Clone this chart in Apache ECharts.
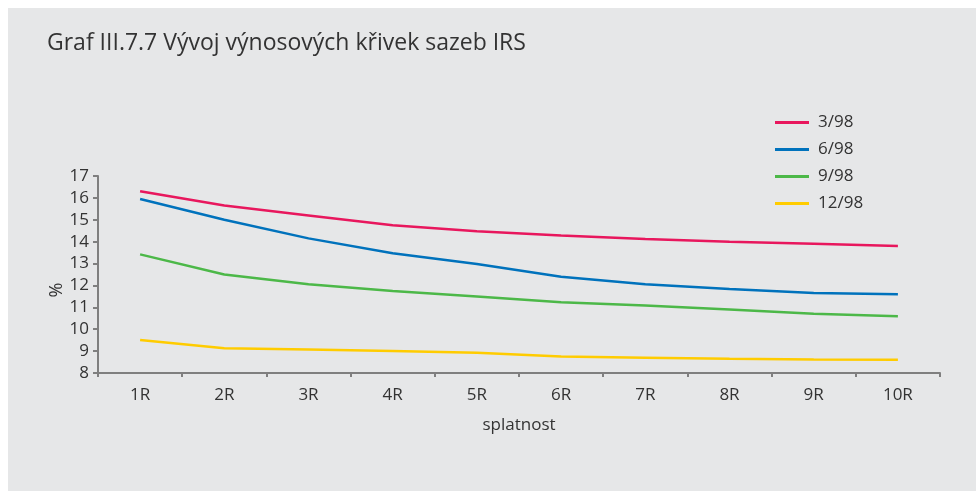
<!DOCTYPE html>
<html>
<head>
<meta charset="utf-8">
<script src="https://cdn.jsdelivr.net/npm/echarts@6/dist/echarts.min.js"></script>
<style>
html,body{margin:0;padding:0;background:#ffffff;}
#chart{width:976px;height:493px;}
</style>
</head>
<body>
<div id="chart"></div>
<script>
const categories = ['1R','2R','3R','4R','5R','6R','7R','8R','9R','10R'];
const s_3_98  = [16.3, 15.65, 15.2, 14.75, 14.48, 14.28, 14.12, 14.0, 13.9, 13.8];
const s_6_98  = [15.95, 15.0, 14.15, 13.47, 12.98, 12.4, 12.05, 11.84, 11.65, 11.6];
const s_9_98  = [13.42, 12.5, 12.05, 11.75, 11.5, 11.23, 11.08, 10.9, 10.71, 10.59];
const s_12_98 = [9.51, 9.13, 9.07, 9.0, 8.92, 8.75, 8.7, 8.65, 8.62, 8.6];
const seriesNames = ['3/98','6/98','9/98','12/98'];
const yTicks = [8,9,10,11,12,13,14,15,16,17];

const FONT = 'Open Sans';
const TXT = '#333333';
const colors = ['#e8175d','#0072bc','#4cb848','#ffcc00'];
const data = [s_3_98, s_6_98, s_9_98, s_12_98];

const chart = echarts.init(document.getElementById('chart'), null, {renderer:'canvas'});
chart.setOption({
  backgroundColor: '#ffffff',
  animation: false,
  graphic: [{
    type: 'rect', silent: true, z: -10,
    shape: {x: 8, y: 8, width: 968, height: 483},
    style: {fill: '#e6e7e8'}
  }, {
    type: 'text', silent: true,
    x: 57, y: 290, rotation: Math.PI / 2,
    style: {text: '%', fontFamily: FONT, fontSize: 18, fill: TXT, align: 'center', verticalAlign: 'middle'}
  }],
  title: {
    text: 'Graf III.7.7 Vývoj výnosových křivek sazeb IRS',
    left: 42, top: 27,
    textStyle: {fontFamily: FONT, fontSize: 23, fontWeight: 'normal', color: TXT}
  },
  legend: {
    orient: 'vertical',
    left: 775, top: 114,
    padding: 0,
    icon: 'rect',
    itemWidth: 34, itemHeight: 3, itemGap: 10,
    data: seriesNames,
    textStyle: {fontFamily: FONT, fontSize: 17, lineHeight: 16, color: TXT, padding: [0,0,0,4]}
  },
  grid: {left: 98, right: 36, top: 176, bottom: 120, containLabel: false},
  xAxis: {
    type: 'category',
    data: categories,
    boundaryGap: true,
    name: 'splatnost',
    nameLocation: 'middle',
    nameGap: 44,
    nameTextStyle: {fontFamily: FONT, fontSize: 17, color: TXT},
    axisLine: {lineStyle: {color: '#7f7f7f', width: 2}},
    axisTick: {show: true, length: 4, lineStyle: {color: '#7f7f7f', width: 2}},
    axisLabel: {fontFamily: FONT, fontSize: 17, color: TXT, margin: 14},
    splitLine: {show: false}
  },
  yAxis: {
    type: 'value',
    min: yTicks[0], max: yTicks[yTicks.length-1], interval: 1,
    axisLine: {show: true, lineStyle: {color: '#7f7f7f', width: 2}},
    axisTick: {show: true, length: 5, lineStyle: {color: '#7f7f7f', width: 2}},
    axisLabel: {fontFamily: FONT, fontSize: 17, color: TXT, margin: 9},
    splitLine: {show: false}
  },
  series: seriesNames.map((n, i) => ({
    name: n,
    type: 'line',
    data: data[i],
    symbol: 'none',
    smooth: false,
    lineStyle: {color: colors[i], width: 2.5},
    itemStyle: {color: colors[i]}
  }))
});
</script>
</body>
</html>
